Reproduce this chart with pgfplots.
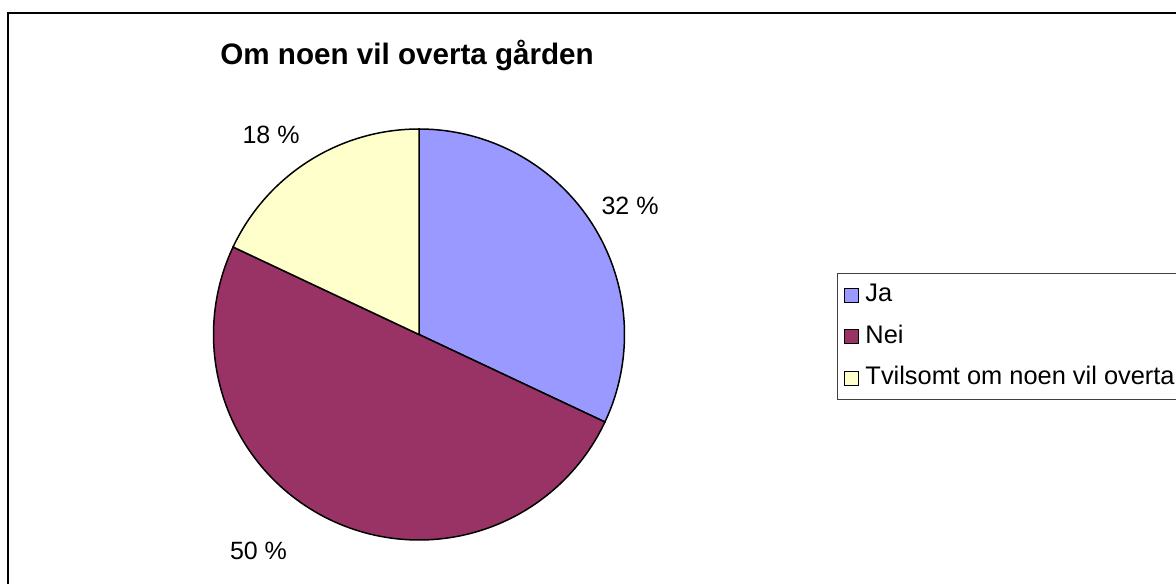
\documentclass[border=0pt]{standalone}
\usepackage{fontspec}
\setmainfont{Liberation Sans}
\usepackage{pgfplots}
\usepackage{pgfplotstable}
\pgfplotsset{compat=1.18}
\definecolor{jablue}{HTML}{9999FF}
\definecolor{neired}{HTML}{993366}
\definecolor{tvilyellow}{HTML}{FFFFCC}
\pgfplotstableread{
label value
Ja 32
Nei 50
Tvilsomt 18
}\piedata
\pgfplotstablegetelem{0}{value}\of\piedata \let\va\pgfplotsretval
\pgfplotstablegetelem{1}{value}\of\piedata \let\vb\pgfplotsretval
\pgfplotstablegetelem{2}{value}\of\piedata \let\vc\pgfplotsretval
\pgfmathsetmacro\aA{90}
\pgfmathsetmacro\aB{\aA-3.6*\va}
\pgfmathsetmacro\aC{\aB-3.6*\vb}
\pgfmathsetmacro\aD{\aC-3.6*\vc}
\begin{document}%
\begin{tikzpicture}[x=0.5pt,y=0.5pt]
\path[use as bounding box] (0,0) rectangle (1176,583);
\clip (0,0) rectangle (1176,583);
\draw[line width=0.9pt] (8,-20) rectangle (1200,570);
\node[anchor=base west, inner sep=0pt, font=\fontsize{14.8}{17}\selectfont\bfseries] at (220,518) {Om noen vil overta gården};
\begin{axis}[
  at={(106.75pt,21.5pt)}, anchor=south west,
  width=205.5pt, height=205.5pt, scale only axis,
  hide axis, clip=false,
  xmin=-1, xmax=1, ymin=-1, ymax=1,
  legend image code/.code={\draw[#1, line width=0.5pt] (0pt,-3.5pt) rectangle (7pt,3.5pt);},
  legend cell align=left,
  legend style={at={(axis description cs:1.517,0.6496)}, anchor=north west,
    draw=black!75, line width=0.5pt, inner xsep=3.5pt, inner ysep=3pt,
    row sep=5.25pt, column sep=0pt,
    font=\fontsize{12.7}{15}\selectfont,
    nodes={text height=9pt, text depth=2.5pt, inner ysep=2pt, inner xsep=3pt}},
]
\addplot[fill=jablue, draw=black, line width=0.75pt, domain=\aB:\aA, samples=90, variable=\t] ({cos(t)},{sin(t)}) -- (axis cs:0,0) -- cycle;
\addlegendentry{Ja}
\addplot[fill=neired, draw=black, line width=0.75pt, domain=\aC:\aB, samples=120, variable=\t] ({cos(t)},{sin(t)}) -- (axis cs:0,0) -- cycle;
\addlegendentry{Nei}
\addplot[fill=tvilyellow, draw=black, line width=0.75pt, domain=\aD:\aC, samples=60, variable=\t] ({cos(t)},{sin(t)}) -- (axis cs:0,0) -- cycle;
\addlegendentry{Tvilsomt om noen vil overta\hspace*{3em}}
\node[font=\fontsize{12.5}{15}\selectfont] at (axis cs:1.027,0.625) {\va{} \%};
\node[font=\fontsize{12.5}{15}\selectfont] at (axis cs:-0.781,-1.054) {\vb{} \%};
\node[font=\fontsize{12.5}{15}\selectfont] at (axis cs:-0.720,0.971) {\vc{} \%};
\end{axis}
\end{tikzpicture}%
\end{document}
